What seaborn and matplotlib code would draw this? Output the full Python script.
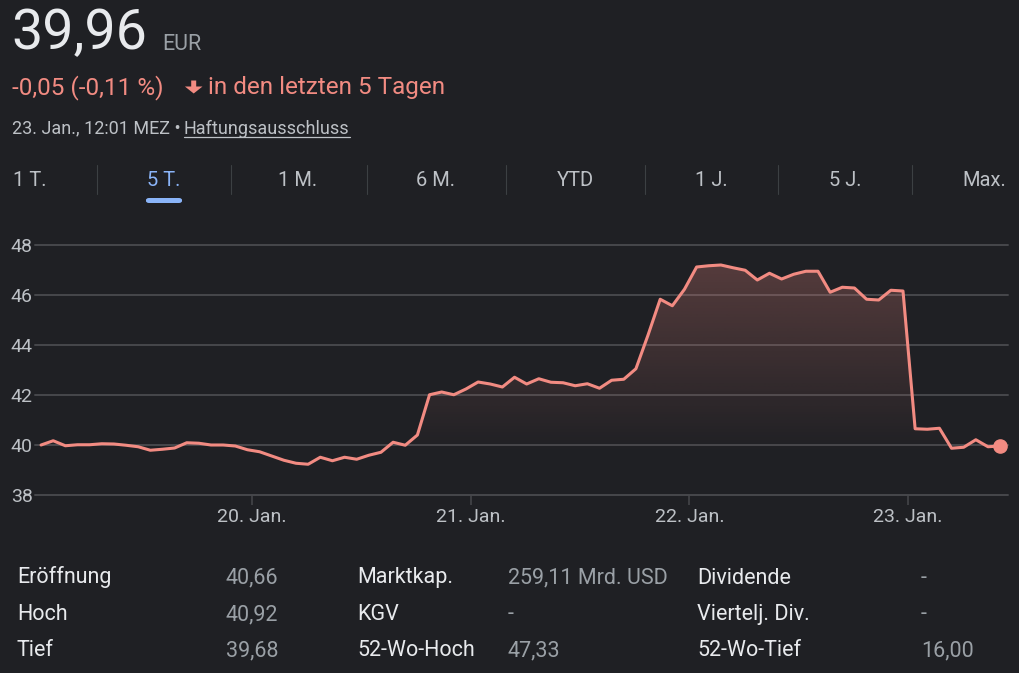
import numpy as np
import matplotlib
matplotlib.use("Agg")
import matplotlib.pyplot as plt
import seaborn as sns
import pandas as pd
from matplotlib.patches import FancyBboxPatch, Polygon
from matplotlib.lines import Line2D

# ---------------- data ----------------
prices = [40.00, 40.17, 39.97, 40.01, 40.01, 40.05, 40.04, 39.99, 39.93, 39.79,
          39.83, 39.88, 40.09, 40.07, 40.00, 40.00, 39.96, 39.81, 39.73, 39.56,
          39.39, 39.27, 39.23, 39.51, 39.37, 39.51, 39.43, 39.59, 39.71, 40.11,
          39.99, 40.40, 42.01, 42.12, 42.01, 42.24, 42.52, 42.44, 42.32, 42.71,
          42.44, 42.65, 42.51, 42.49, 42.37, 42.45, 42.27, 42.59, 42.63, 43.05,
          44.40, 45.83, 45.57, 46.23, 47.12, 47.17, 47.20, 47.09, 46.99, 46.60,
          46.87, 46.64, 46.83, 46.95, 46.95, 46.11, 46.31, 46.28, 45.83, 45.80,
          46.19, 46.16, 40.65, 40.63, 40.67, 39.87, 39.91, 40.21, 39.93, 39.96]
tick_pos = [17.4, 35.4, 53.4, 71.4]          # sample index of each day start
tick_labels = ["20. Jan.", "21. Jan.", "22. Jan.", "23. Jan."]
y_ticks = [38, 40, 42, 44, 46, 48]

price_text = "39,96"
currency = "EUR"
change_text = "-0,05 (-0,11 %)"
period_text = "in den letzten 5 Tagen"
timestamp = "23. Jan., 12:01 MEZ \u2022"
disclaimer = "Haftungsausschluss"

tabs = ["1 T.", "5 T.", "1 M.", "6 M.", "YTD", "1 J.", "5 J.", "Max."]
selected_tab = 1

stat_labels = [["Eröffnung", "Hoch", "Tief"],
               ["Marktkap.", "KGV", "52-Wo-Hoch"],
               ["Dividende", "Viertelj. Div.", "52-Wo-Tief"]]
stat_values = [["40,66", "40,92", "39,68"],
               ["259,11 Mrd. USD", "-", "47,33"],
               ["-", "-", "16,00"]]

# ---------------- style ----------------
BG = "#1f2024"
RED = "#f28b82"
WHITE = "#e8eaed"
GRAY = "#9aa0a6"
LGRAY = "#bdc1c6"
BLUE = "#8ab4f8"
GRID = "#47484c"

sns.set_theme(style="dark")
plt.rcParams["font.family"] = ["Roboto", "DejaVu Sans"]

W, H = 1020, 673
fig = plt.figure(figsize=(W / 100, H / 100), dpi=100, facecolor=BG)


def fx(x):
    return x / W


def fy(y):
    return 1 - y / H


# chart axes
ax_l, ax_r, ax_t, ax_b = 35, 1008, 245, 495
ax = fig.add_axes([fx(ax_l), fy(ax_b), (ax_r - ax_l) / W, (ax_b - ax_t) / H])
ax.set_facecolor(BG)

df = pd.DataFrame({"i": np.arange(len(prices)), "p": prices})
x0, x1 = -0.5, 79.65
ax.set_xlim(x0, x1)
ax.set_ylim(38, 48)

# gradient fill under the line
poly = ax.fill_between(df["i"], df["p"], 38, facecolor="none", edgecolor="none")
yy = np.linspace(38, 48, 400)
alpha = np.clip((yy - 39.6) / (47.2 - 39.6), 0, 1) * 0.26
rgb = matplotlib.colors.to_rgb(RED)
grad = np.zeros((len(yy), 2, 4))
grad[..., 0], grad[..., 1], grad[..., 2] = rgb
grad[..., 3] = alpha[:, None]
im = ax.imshow(grad, extent=[x0, x1, 38, 48], origin="lower", aspect="auto",
               zorder=1, interpolation="bilinear")
im.set_clip_path(poly.get_paths()[0], transform=ax.transData)

sns.lineplot(data=df, x="i", y="p", ax=ax, color=RED, linewidth=2.2, zorder=3)
ax.plot(df["i"].iloc[-1], df["p"].iloc[-1], "o", color=RED, markersize=9.5,
        zorder=4)

ax.set_yticks(y_ticks)
ax.set_yticklabels([str(v) for v in y_ticks])
ax.set_xticks(tick_pos)
ax.set_xticklabels(tick_labels)
ax.set_xlabel("")
ax.set_ylabel("")
ax.yaxis.grid(True, color=GRID, linewidth=1.4)
ax.xaxis.grid(False)
for gl in ax.get_ygridlines():
    gl.set_clip_on(False)
for s in ax.spines.values():
    s.set_visible(False)
ax.tick_params(axis="y", length=0, pad=1.5, labelsize=14, labelcolor=LGRAY)
ax.tick_params(axis="x", length=7, width=1.1, color=GRID, pad=2,
               labelsize=14, labelcolor=LGRAY, direction="out", bottom=True)

# ---------------- header ----------------
fig.text(fx(11), fy(49.5), price_text, color=WHITE, fontsize=40, va="baseline")
fig.text(fx(162), fy(49.5), currency, color=GRAY, fontsize=15.5, va="baseline")
fig.text(fx(12), fy(94.3), change_text, color=RED, fontsize=17.5, va="baseline")
# down-arrow icon
arrow = Polygon([(fx(191.2), fy(80.5)), (fx(196.2), fy(80.5)), (fx(196.2), fy(86.5)),
                 (fx(202.5), fy(86.5)), (fx(193.7), fy(93.5)), (fx(184.9), fy(86.5)),
                 (fx(191.2), fy(86.5))], closed=True, transform=fig.transFigure,
                facecolor=RED, edgecolor="none")
fig.add_artist(arrow)
fig.text(fx(208), fy(94.3), period_text, color=RED, fontsize=17.5, va="baseline")
fig.text(fx(12), fy(133.5), timestamp, color=LGRAY, fontsize=13, va="baseline")
dt = fig.text(fx(184), fy(133.5), disclaimer, color=LGRAY, fontsize=13,
              va="baseline")
fig.canvas.draw()
bb = dt.get_window_extent()
fig.add_artist(Line2D([fx(bb.x0), fx(bb.x1)], [fy(137), fy(137)],
                      transform=fig.transFigure, color=LGRAY, linewidth=0.9))

# ---------------- tabs ----------------
tab_centers = [30, 164, 298, 436, 575, 711, 845, 984]
separators = [97, 231, 367, 506, 645, 778, 912]
for i, (t, cx) in enumerate(zip(tabs, tab_centers)):
    fig.text(fx(cx), fy(186.5), t, color=BLUE if i == selected_tab else LGRAY,
             fontsize=14.5, ha="center", va="baseline")
for sx in separators:
    fig.add_artist(Line2D([fx(sx), fx(sx)], [fy(165), fy(194)],
                          transform=fig.transFigure, color="#3c4043",
                          linewidth=0.8))
cx = tab_centers[selected_tab]
bar = FancyBboxPatch((fx(cx - 18), fy(203)), 36 / W, 5 / H,
                     boxstyle="round,pad=0,rounding_size=0.003",
                     transform=fig.transFigure, facecolor=BLUE, edgecolor="none")
fig.add_artist(bar)

# ---------------- stats ----------------
label_x = [17, 357, 697]
value_x = [226, 508, 921]
row_base = [583.5, 620, 656.5]
for c in range(3):
    for r in range(3):
        fig.text(fx(label_x[c]), fy(row_base[r]), stat_labels[c][r], color=WHITE,
                 fontsize=15.5, va="baseline")
        fig.text(fx(value_x[c]), fy(row_base[r]), stat_values[c][r], color=GRAY,
                 fontsize=15.5, va="baseline")

fig.savefig("out.png", dpi=100, facecolor=BG)
